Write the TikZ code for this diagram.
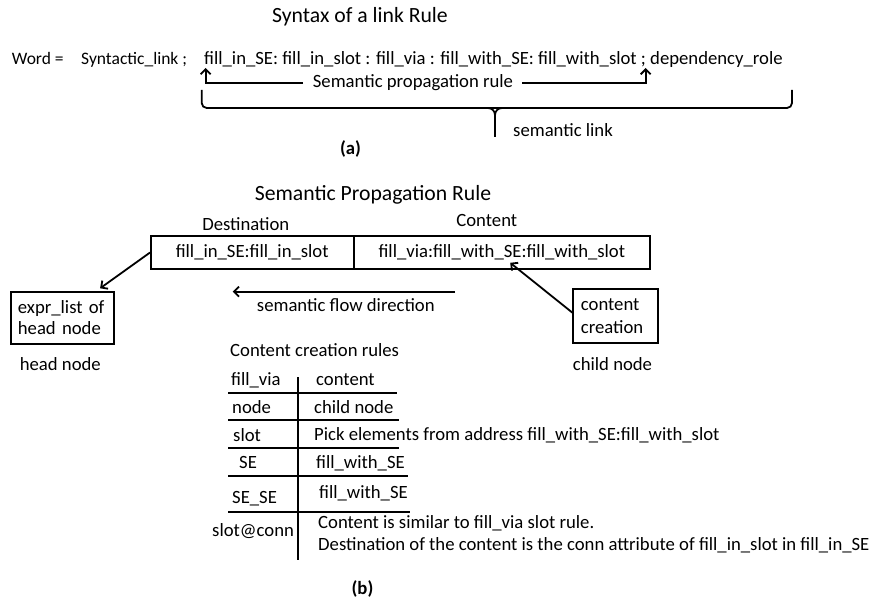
\documentclass[tikz,border=0pt]{standalone}
\usepackage{fontspec}
\setmainfont{Carlito}
\usetikzlibrary{arrows.meta,calc}

\begin{document}
\begin{tikzpicture}[x=1pt,y=-1pt,
  txt/.style={inner sep=0pt, font=\fontsize{18.7}{21.3}\selectfont},
  topline/.style={inner sep=0pt, font=\fontsize{17.5}{20}\selectfont},
  ttl/.style={inner sep=0pt, font=\fontsize{21.7}{25}\selectfont},
  lbl/.style={inner sep=0pt, font=\bfseries\fontsize{18.7}{21}\selectfont},
  box/.style={draw, line width=1.8pt, inner sep=0pt},
  arr/.style={line width=1.8pt, -{Straight Barb[length=5pt,width=10pt]}},
  tabline/.style={line width=1.6pt},
  brace/.style={line width=1.8pt}]

\useasboundingbox (0,0) rectangle (877,604);

% ---------- (a) syntax of a link rule ----------
\node[ttl, anchor=base] (ttl1) at (360,23) {Syntax of a link Rule};

\node[topline, anchor=base west] (word) at (11.7,65) {Word =};
\node[topline, anchor=base west] (syn) at (81,65) {Syntactic\_link ;};
\node[txt, anchor=base west] (fields) at (204,65)
  {fill\_in\_SE: fill\_in\_slot : fill\_via : fill\_with\_SE: fill\_with\_slot ; dependency\_role};

\node[txt, anchor=base] (prop) at (413,88) {Semantic propagation rule};
\coordinate (pl) at (205.7,68);
\coordinate (pr) at (645.7,68);
\coordinate (pa) at (303,82.7);
\coordinate (pb) at (522,82.7);
\draw[arr] (pa) -- (pl |- pa) -- (pl);
\draw[arr] (pb) -- (pr |- pb) -- (pr);

% curly brace under the semantic part
\draw[brace, rounded corners=5pt] (201.7,90) -- (201.7,108) -- (792,108) -- (792,90);
\draw[brace] (488,108) to[out=0,in=90] (495,115) -- (495,137);
\draw[brace] (502,108) to[out=180,in=90] (495,115);
\node[txt, anchor=base west] (slink) at (513,137) {semantic link};

\node[lbl, anchor=base] (capa) at (350.5,155) {(a)};

% ---------- (b) semantic propagation rule ----------
\node[ttl, anchor=base] (ttl2) at (373,200) {Semantic Propagation Rule};

\node[txt, anchor=base] (destlbl) at (245.8,230) {Destination};
\node[txt, anchor=base] (contlbl) at (486.8,226.7) {Content};

\node[box, txt, anchor=north west, minimum width=202.7pt, minimum height=33.3pt]
  (dest) at (150,235) {fill\_in\_SE:fill\_in\_slot};
\node[box, txt, anchor=north west, minimum width=296.6pt, minimum height=33.3pt]
  (cont) at (352.7,235) {fill\_via:fill\_with\_SE:fill\_with\_slot};

\node[box, txt, anchor=north west, minimum height=52pt, text width=89.3pt,
      inner xsep=7pt, align=left] (head) at (10,290.7) {expr\_list of\\head node};
\node[box, txt, anchor=north west, minimum height=53.4pt, text width=69.6pt,
      inner xsep=7.7pt, align=left, font=\fontsize{18.7}{23}\selectfont]
  (ccr) at (572.3,288.3) {content\\creation};

\draw[arr] (dest.west) -- ([xshift=-15pt,yshift=2.4pt]head.north east);
\draw[arr] ([yshift=3.3pt]ccr.west) -- ([xshift=8.3pt,yshift=7.3pt]cont.south);

\coordinate (fr) at (455,291.7);
\coordinate (fl) at (232.7,291.7);
\draw[arr] (fr) -- (fl);
\node[txt, anchor=base] (flow) at (345.8,311.7) {semantic flow direction};

\node[txt, anchor=base] (headlbl) at (60.3,370) {head node};
\node[txt, anchor=base] (childlbl) at (612.5,370) {child node};

% content creation rules table
\node[txt, anchor=base west] (rules) at (230,356.7) {Content creation rules};

\node[txt, anchor=base west] (k1) at (231,385) {fill\_via};
\node[txt, anchor=base west] (v1) at (316,385) {content};
\node[txt, anchor=base west] (k2) at (232,413.3) {node};
\node[txt, anchor=base west] (v2) at (314,413.3) {child node};
\node[txt, anchor=base west] (k3) at (233,441.7) {slot};
\node[txt, anchor=base west] (v3) at (314,440.7) {Pick elements from address fill\_with\_SE:fill\_with\_slot};
\node[txt, anchor=base west] (k4) at (239,468.3) {SE};
\node[txt, anchor=base west] (v4) at (316,468.3) {fill\_with\_SE};
\node[txt, anchor=base west] (k5) at (232,503.3) {SE\_SE};
\node[txt, anchor=base west] (v5) at (319,498.3) {fill\_with\_SE};
\node[txt, anchor=base west] (k6) at (212,536.7) {slot@conn};
\node[txt, anchor=base west] (v6a) at (318,528.3) {Content is similar to fill\_via slot rule.};
\node[txt, anchor=base west] (v6b) at (318,550) {Destination of the content is the conn attribute of fill\_in\_slot in fill\_in\_SE};

\draw[tabline] (298,377) -- (298,560);
\draw[tabline] (228,392.7) -- (397,392.7);
\draw[tabline] (228,420) -- (399,420);
\draw[tabline] (228,448) -- (399,448);
\draw[tabline] (228,476) -- (408,476);
\draw[tabline] (228,512) -- (410,512);

\node[lbl, anchor=base] (capb) at (362.5,594) {(b)};
\end{tikzpicture}
\end{document}
